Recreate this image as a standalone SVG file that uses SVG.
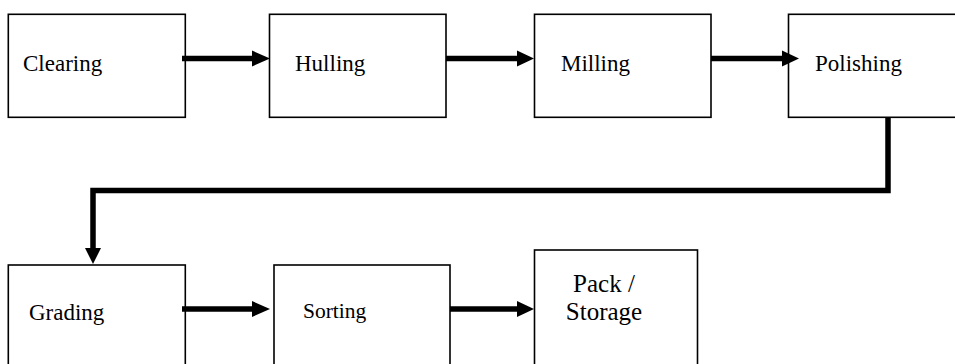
<svg xmlns="http://www.w3.org/2000/svg" width="955" height="364" viewBox="0 0 955 364">
<style>
.box{fill:#fff;stroke:#000;stroke-width:1.6}
.lbl{font-family:"Liberation Serif","Times New Roman",serif;font-size:23px;fill:#000}
.ln{fill:none;stroke:#000;stroke-width:5.5}
.hd{fill:#000;stroke:none}
</style>
<rect width="955" height="364" fill="#fff"/>
<g id="clearing"><rect class="box" x="8.3" y="14.3" width="177" height="103"/><text class="lbl" x="23" y="70.5">Clearing</text></g>
<g id="hulling"><rect class="box" x="269.5" y="14.3" width="176.5" height="103"/><text class="lbl" x="295" y="70.5">Hulling</text></g>
<g id="milling"><rect class="box" x="534.5" y="14.3" width="176.5" height="103"/><text class="lbl" x="561" y="70.5">Milling</text></g>
<g id="polishing"><rect class="box" x="788.5" y="14.3" width="177" height="103"/><text class="lbl" x="815" y="70.5">Polishing</text></g>
<g id="grading"><rect class="box" x="8.3" y="265" width="177" height="110"/><text class="lbl" x="29" y="320">Grading</text></g>
<g id="sorting"><rect class="box" x="274" y="265" width="176" height="110"/><text class="lbl" x="303" y="318" style="font-size:21.5px">Sorting</text></g>
<g id="pack"><rect class="box" x="534.5" y="250" width="163" height="125"/><text class="lbl" x="604" y="292" text-anchor="middle" style="font-size:25px">Pack /</text><text class="lbl" x="604" y="320" text-anchor="middle" style="font-size:25px">Storage</text></g>
<g id="connectors">
<line class="ln" x1="182" y1="58.5" x2="254" y2="58.5"/>
<polygon class="hd" points="252,50.5 270,58.5 252,66.5"/>
<line class="ln" x1="446" y1="58.5" x2="519" y2="58.5"/>
<polygon class="hd" points="517,50.5 534,58.5 517,66.5"/>
<line class="ln" x1="711" y1="58.5" x2="784" y2="58.5"/>
<polygon class="hd" points="782,50.5 799,58.5 782,66.5"/>
<polyline class="ln" points="888,117 888,190.5 93,190.5 93,250"/>
<polygon class="hd" points="85,248 101,248 93,264"/>
<line class="ln" x1="182" y1="309" x2="254" y2="309"/>
<polygon class="hd" points="252,301 270,309 252,317"/>
<line class="ln" x1="450" y1="309" x2="519" y2="309"/>
<polygon class="hd" points="517,301 534,309 517,317"/>
</g>
</svg>
